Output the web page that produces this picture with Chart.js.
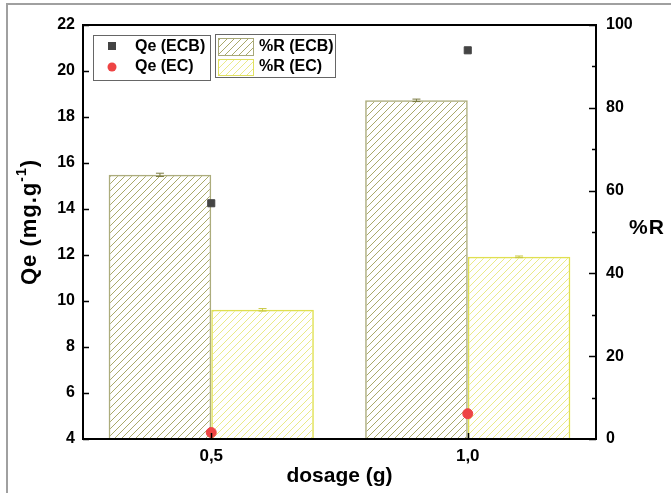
<!DOCTYPE html>
<html>
<head>
<meta charset="utf-8">
<script src="https://cdn.jsdelivr.net/npm/chart.js@4.4.1/dist/chart.umd.min.js"></script>
<style>
  html, body { margin: 0; padding: 0; background: #fff; }
  #wrap { position: relative; width: 671px; height: 493px; }
  #frame { position: absolute; left: 6px; top: 3px; right: -10px; bottom: -10px;
           border-left: 2px solid #a0a0a0; border-top: 2px solid #a0a0a0; pointer-events: none; }
</style>
</head>
<body>
<div id="wrap">
  <canvas id="chart" width="671" height="493"></canvas>
  <div id="frame"></div>
</div>
<script>
// données
const categories = ['0,5', '1,0'];
const qeECB = [14.25, 20.9];
const qeEC = [4.28, 5.1];
const rECB = [63.8, 81.8];
const rEC = [31.2, 44.0];
const errECB = [0.4, 0.3];
const errEC = [0.3, 0.2];
const qeTicks = [4, 6, 8, 10, 12, 14, 16, 18, 20, 22];
const rTicks = [0, 20, 40, 60, 80, 100];

const FONT = '"Liberation Sans", Arial, sans-serif';

function hatch(line, size) {
    const c = document.createElement('canvas');
    c.width = size; c.height = size;
    const g = c.getContext('2d');
    g.strokeStyle = line;
    g.lineWidth = 1;
    g.beginPath();
    g.moveTo(0, size); g.lineTo(size, 0);
    g.moveTo(-1, 1); g.lineTo(1, -1);
    g.moveTo(size - 1, size + 1); g.lineTo(size + 1, size - 1);
    g.stroke();
    return g.createPattern(c, 'repeat');
}

const ctx = document.getElementById('chart').getContext('2d');
const patECB = hatch('#a9a96a', 7);
const patEC = hatch('#eaea88', 7);

const decor = {
    id: 'decor',
    afterDatasetsDraw(chart) {
        const c = chart.ctx;
        // barres d'erreur
        [[0, errECB, rECB, '#7a7a40'], [1, errEC, rEC, '#c8c840']].forEach(([i, err, vals, col]) => {
            const meta = chart.getDatasetMeta(i);
            const y1 = chart.scales.y1;
            meta.data.forEach((bar, j) => {
                const top = y1.getPixelForValue(vals[j] + err[j]);
                const bot = y1.getPixelForValue(vals[j] - err[j]);
                c.save();
                c.strokeStyle = col;
                c.lineWidth = 1;
                c.beginPath();
                c.moveTo(bar.x, top); c.lineTo(bar.x, bot);
                c.moveTo(bar.x - 4, top); c.lineTo(bar.x + 4, top);
                c.moveTo(bar.x - 4, bot); c.lineTo(bar.x + 4, bot);
                c.stroke();
                c.restore();
            });
        });
    },
    afterDraw(chart) {
        const c = chart.ctx;
        const a = chart.chartArea;
        const y = chart.scales.y, y1 = chart.scales.y1, x = chart.scales.x;
        c.save();
        c.strokeStyle = '#000';
        c.lineWidth = 2;
        c.strokeRect(a.left, a.top, a.right - a.left, a.bottom - a.top);
        c.lineWidth = 1.5;
        c.beginPath();
        qeTicks.forEach(v => {
            const p = Math.round(y.getPixelForValue(v)) + 0.5;
            c.moveTo(a.left, p); c.lineTo(a.left + 6, p);
        });
        for (let v = 0; v <= 100; v += 10) {
            const p = Math.round(y1.getPixelForValue(v)) + 0.5;
            c.moveTo(a.right, p); c.lineTo(a.right - (v % 20 === 0 ? 7 : 4), p);
        }
        categories.forEach((_, i) => {
            const p = Math.round(x.getPixelForValue(i)) + 0.5;
            c.moveTo(p, a.bottom); c.lineTo(p, a.bottom - 6);
        });
        c.stroke();

        // titres d'axes
        c.fillStyle = '#000';
        c.textAlign = 'center';
        c.textBaseline = 'middle';
        c.font = 'bold 21px ' + FONT;
        c.fillText('dosage (g)', (a.left + a.right) / 2, 476);
        c.letterSpacing = '1px';
        c.font = 'bold 21px ' + FONT;
        c.fillText('%R', 647, 228);

        c.save();
        c.translate(30, 222);
        c.rotate(-Math.PI / 2);
        c.letterSpacing = '1px';
        const t1 = 'Qe (mg.g', t3 = ')';
        c.font = 'bold 22px ' + FONT;
        const w1 = c.measureText(t1).width, w3 = c.measureText(t3).width;
        c.font = 'bold 14px ' + FONT;
        const w2 = c.measureText('-1').width;
        let sx = -(w1 + w2 + w3) / 2;
        c.textAlign = 'left';
        c.font = 'bold 22px ' + FONT;
        c.fillText(t1, sx, 0);
        c.font = 'bold 14px ' + FONT;
        c.fillText('-1', sx + w1, -8);
        c.font = 'bold 22px ' + FONT;
        c.fillText(t3, sx + w1 + w2, 0);
        c.restore();
        c.letterSpacing = '0px';

        // légendes
        c.lineWidth = 1;
        c.strokeStyle = '#666';
        c.strokeRect(93.5, 35.5, 117, 45);
        c.strokeRect(215.5, 34.5, 120, 43);
        c.fillStyle = '#444';
        c.fillRect(108, 42, 8, 8);
        c.fillStyle = '#ee4444';
        c.beginPath(); c.arc(112, 67, 4.5, 0, Math.PI * 2); c.fill();
        c.fillStyle = patECB;
        c.fillRect(218, 38, 35, 17);
        c.strokeStyle = '#a8a878';
        c.strokeRect(218.5, 38.5, 35, 17);
        c.fillStyle = patEC;
        c.fillRect(218, 59, 35, 16);
        c.strokeStyle = '#e0e060';
        c.strokeRect(218.5, 59.5, 35, 16);
        c.fillStyle = '#000';
        c.font = 'bold 16px ' + FONT;
        c.textAlign = 'left';
        c.fillText('Qe (ECB)', 135, 47);
        c.fillText('Qe (EC)', 135, 67);
        c.fillText('%R (ECB)', 259, 47);
        c.fillText('%R (EC)', 259, 67);
        c.restore();
    }
};

new Chart(ctx, {
    data: {
        labels: categories,
        datasets: [
            {
                type: 'bar',
                label: '%R (ECB)',
                data: rECB,
                yAxisID: 'y1',
                backgroundColor: patECB,
                borderColor: '#acac7c',
                borderWidth: 1.5,
                categoryPercentage: 0.8,
                barPercentage: 1,
                order: 2
            },
            {
                type: 'bar',
                label: '%R (EC)',
                data: rEC,
                yAxisID: 'y1',
                backgroundColor: patEC,
                borderColor: '#e0e050',
                borderWidth: 1.5,
                categoryPercentage: 0.8,
                barPercentage: 1,
                order: 2
            },
            {
                type: 'line',
                label: 'Qe (ECB)',
                data: qeECB,
                yAxisID: 'y',
                showLine: false,
                pointStyle: 'rect',
                pointRadius: 5,
                backgroundColor: '#444',
                borderColor: '#444',
                order: 1
            },
            {
                type: 'line',
                label: 'Qe (EC)',
                data: qeEC,
                yAxisID: 'y',
                showLine: false,
                pointStyle: 'circle',
                pointRadius: 5,
                backgroundColor: '#ee4444',
                borderColor: '#ee4444',
                order: 1
            }
        ]
    },
    options: {
        responsive: false,
        animation: false,
        layout: { padding: { top: 25, left: 0, right: 0, bottom: 0 } },
        plugins: {
            legend: { display: false },
            tooltip: { enabled: false }
        },
        scales: {
            x: {
                type: 'category',
                offset: true,
                grid: { display: false, drawTicks: false },
                border: { display: false },
                ticks: { color: '#000', font: { family: FONT, size: 17, weight: 'bold' }, padding: 7 },
                afterFit: s => { s.height = 54; }
            },
            y: {
                position: 'left',
                min: 4,
                max: 22,
                grid: { display: false, drawTicks: false },
                border: { display: false },
                ticks: { stepSize: 2, color: '#000', font: { family: FONT, size: 16, weight: 'bold' }, padding: 8 },
                afterFit: s => { s.width = 83; }
            },
            y1: {
                position: 'right',
                min: 0,
                max: 100,
                grid: { display: false, drawTicks: false },
                border: { display: false },
                ticks: { stepSize: 20, color: '#000', font: { family: FONT, size: 16, weight: 'bold' }, padding: 10 },
                afterFit: s => { s.width = 75; }
            }
        }
    },
    plugins: [decor]
});
</script>
</body>
</html>
